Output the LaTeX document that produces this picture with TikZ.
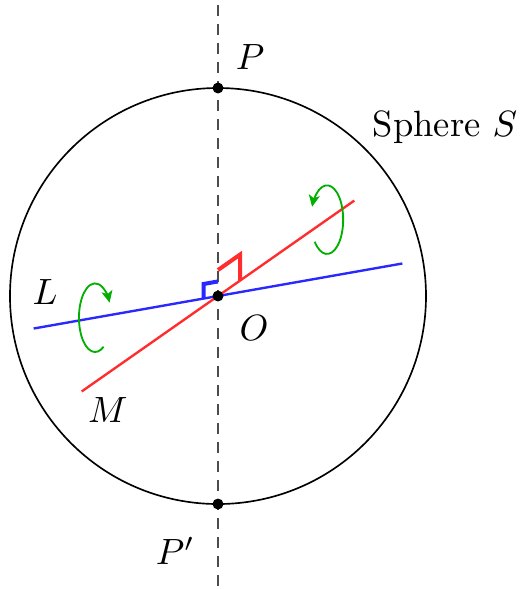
\documentclass[tikz,border=0pt]{standalone}
\usetikzlibrary{arrows.meta,calc}
\definecolor{myred}{RGB}{255,45,45}
\definecolor{myblue}{RGB}{40,40,255}
\definecolor{mygreen}{RGB}{0,175,0}
\begin{document}
\begin{tikzpicture}[
  axisline/.style={dashed, dash pattern=on 3pt off 2.2pt, black!70, line width=0.45pt},
  lineL/.style={myblue, line width=0.65pt},
  lineM/.style={myred, line width=0.65pt},
  rmark/.style={line width=1.1pt},
  rot/.style={mygreen, line width=0.5pt, -{Stealth[length=3.2pt,width=3pt,inset=0.8pt]}},
  dotstyle/.style={circle, fill=black, inner sep=0pt, minimum size=3pt},
  lab/.style={inner sep=0pt}
]
\useasboundingbox (-2.096,-2.817) rectangle (2.904,2.846);
\coordinate (O) at (0,0);
\coordinate (Ltop) at (0,2.8);
\coordinate (Lbot) at (0,-2.95);
\draw[axisline] (Ltop) -- (Lbot);
\draw[line width=0.45pt] (O) circle (2);
% lines
\coordinate (L1) at (190:1.8);
\coordinate (L2) at (10:1.8);
\coordinate (M1) at (215:1.6);
\coordinate (M2) at (35:1.6);
\draw[lineL] (L1) -- (L2);
\draw[lineM] (M1) -- (M2);
% right-angle markers
\draw[rmark, myblue] ($(O)+(190:0.14)$) -- ($(O)+(190:0.14)+(0,0.14)$) -- ($(O)+(0,0.14)$);
\draw[rmark, myred] ($(O)+(0,0.25)$) -- ($(O)+(0,0.25)+(35:0.26)$) -- ($(O)+(35:0.26)$);
% rotation arrows
\draw[rot] ($(O)+(35:1.28)+(-140:0.155 and 0.33)$) arc[start angle=-140, end angle=158, x radius=0.155, y radius=0.33];
\draw[rot] ($(O)+(190:1.2)+(-58:0.155 and 0.33)$) arc[start angle=-58, end angle=-334, x radius=0.155, y radius=0.33];
% points
\node[dotstyle] (Pt) at (0,2) {};
\node[dotstyle] (Pp) at (0,-2) {};
\node[dotstyle] (Ot) at (O) {};
% labels
\node[lab] (lP) at (0.308,2.298) {$P$};
\node[lab] (lPp) at (-0.41,-2.452) {$P'$};
\node[lab] (lS) at (2.183,1.625) {Sphere $S$};
\node[lab] (lL) at (-1.663,0.038) {$L$};
\node[lab] (lO) at (0.346,-0.308) {$O$};
\node[lab] (lM) at (-1.058,-1.096) {$M$};
\end{tikzpicture}
\end{document}
